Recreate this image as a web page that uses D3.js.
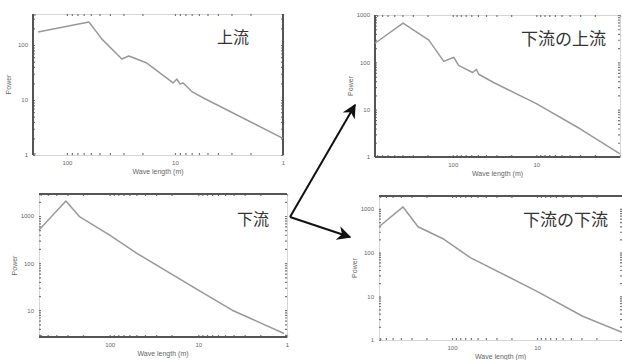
<!DOCTYPE html>
<html>
<head>
<meta charset="utf-8">
<script src="https://cdn.jsdelivr.net/npm/d3@7"></script>
<style>
  body { margin: 0; background: #fff; }
  svg { display: block; font-family: "Liberation Sans", Arial, sans-serif; }
</style>
</head>
<body>
<svg id="chart" width="622" height="360"></svg>
<script>
// upstream (上流)
const upWave = [185, 62.5, 47.4, 31, 26.7, 18.2, 10.4, 9.6, 9.0, 8.4, 6.9, 5.5, 2.9, 1.0];
const upPower = [172, 262, 128, 55.6, 63, 47, 20.4, 24, 19.6, 20.4, 14, 11, 5.8, 2.0];
// downstream (下流)
const downWave = [627, 312, 217, 100, 49.8, 10, 4.15, 1.08];
const downPower = [502, 2085, 953, 394, 163, 26.7, 10, 3.2];
// upstream part of downstream (下流の上流)
const duWave = [850, 393, 193, 128, 97, 85, 58, 52, 49, 32.5, 10, 3.0, 1.0];
const duPower = [253, 676, 294, 105, 128, 86, 61, 71, 56, 37.5, 13.4, 3.95, 1.16];
// downstream part of downstream (下流の下流)
const ddWave = [723, 377, 251, 128, 61, 10, 2.9, 1.0];
const ddPower = [390, 1110, 390, 208, 77, 13, 3.5, 1.5];

const titles = ['上流', '下流', '下流の上流', '下流の下流'];
const xLabelsLeft = [100, 10, 1];
const xLabelsRight = [100, 10];
const yLabelTicks = [1000, 100, 10, 1];

const svg = d3.select('#chart');

const panels = [
  { wave: upWave, power: upPower, title: titles[0], x0: 33, x1: 283, y0: 14, y1: 155,
    xd: [206, 1], yd: [1, 366], xl: xLabelsLeft, solid: ['left', 'right'], tx: 217, ty: 43, fs: 16 },
  { wave: downWave, power: downPower, title: titles[1], x0: 39, x1: 287, y0: 194, y1: 337,
    xd: [627, 1], yd: [2.7, 2930], xl: xLabelsLeft, solid: ['top', 'bottom'], tx: 237, ty: 225, fs: 16 },
  { wave: duWave, power: duPower, title: titles[2], x0: 375, x1: 620, y0: 15, y1: 157,
    xd: [850, 1], yd: [1, 1000], xl: xLabelsRight, solid: ['left', 'bottom'], tx: 521, ty: 45, fs: 17 },
  { wave: ddWave, power: ddPower, title: titles[3], x0: 379, x1: 622, y0: 196, y1: 340,
    xd: [723, 1], yd: [1, 1975], xl: xLabelsRight, solid: ['top'], tx: 523, ty: 226, fs: 17 }
];

function minorTicks(domain) {
  const lo = Math.min(...domain), hi = Math.max(...domain);
  const out = [];
  for (let e = -1; e <= 4; e++) {
    for (let m = 1; m < 10; m++) {
      const v = m * Math.pow(10, e);
      if (v >= lo && v <= hi) out.push(v);
    }
  }
  return out;
}

panels.forEach((p) => {
  const x = d3.scaleLog().domain(p.xd).range([p.x0, p.x1]);
  const y = d3.scaleLog().domain(p.yd).range([p.y1, p.y0]);
  const g = svg.append('g');

  const xt = minorTicks(p.xd);
  const yt = minorTicks(p.yd);
  const fmtX = (d) => p.xl.includes(d) ? d : '';
  const fmtY = (d) => yLabelTicks.includes(d) ? d : '';

  // bottom axis with labels
  const bx = g.append('g').attr('transform', `translate(0,${p.y1})`)
    .call(d3.axisBottom(x).tickValues(xt).tickSize(-2).tickPadding(6).tickFormat(fmtX));
  // top ticks
  const tx = g.append('g').attr('transform', `translate(0,${p.y0})`)
    .call(d3.axisTop(x).tickValues(xt).tickSize(-2).tickFormat(''));
  // left axis with labels
  const ly = g.append('g').attr('transform', `translate(${p.x0},0)`)
    .call(d3.axisLeft(y).tickValues(yt).tickSize(-2).tickPadding(5).tickFormat(fmtY));
  // right ticks
  const ry = g.append('g').attr('transform', `translate(${p.x1},0)`)
    .call(d3.axisRight(y).tickValues(yt).tickSize(-2).tickFormat(''));

  [bx, tx, ly, ry].forEach((a) => {
    a.select('.domain').attr('stroke', '#bbb').attr('stroke-width', 0.6);
    a.selectAll('.tick line').attr('stroke', '#777').attr('stroke-width', 1.2);
    a.selectAll('text').attr('fill', '#666').style('font-size', '6px');
  });

  // heavy frame lines
  const sides = {
    left: [p.x0, p.y0, p.x0, p.y1],
    right: [p.x1, p.y0, p.x1, p.y1],
    top: [p.x0, p.y0, p.x1, p.y0],
    bottom: [p.x0, p.y1, p.x1, p.y1]
  };
  p.solid.forEach((s) => {
    const c = sides[s];
    g.append('line')
      .attr('x1', c[0]).attr('y1', c[1]).attr('x2', c[2]).attr('y2', c[3])
      .attr('stroke', '#555').attr('stroke-width', 2);
  });

  // spectrum line
  const pts = p.wave.map((w, i) => [w, p.power[i]]);
  g.append('path')
    .datum(pts)
    .attr('fill', 'none')
    .attr('stroke', '#999')
    .attr('stroke-width', 1.5)
    .attr('stroke-linejoin', 'round')
    .attr('d', d3.line().x((d) => x(d[0])).y((d) => y(d[1])));

  // axis titles
  g.append('text')
    .attr('x', (p.x0 + p.x1) / 2)
    .attr('y', p.y1 + 19)
    .attr('text-anchor', 'middle')
    .attr('fill', '#666')
    .style('font-size', '7px')
    .text('Wave length (m)');
  g.append('text')
    .attr('transform', `translate(${p.x0 - 22},${(p.y0 + p.y1) / 2}) rotate(-90)`)
    .attr('text-anchor', 'middle')
    .attr('fill', '#666')
    .style('font-size', '7px')
    .text('Power');

  // panel title
  g.append('text')
    .attr('x', p.tx)
    .attr('y', p.ty)
    .attr('fill', '#333')
    .style('font-family', '"Noto Sans CJK JP", sans-serif')
    .style('font-size', p.fs + 'px')
    .text(p.title);
});

// arrows from the downstream panel to its two sub-panels
const defs = svg.append('defs');
defs.append('marker')
  .attr('id', 'head')
  .attr('viewBox', '0 0 10 10')
  .attr('refX', 9).attr('refY', 5)
  .attr('markerWidth', 7).attr('markerHeight', 7)
  .attr('orient', 'auto')
  .append('path')
  .attr('d', 'M0,0 L10,5 L0,10 L3,5 Z')
  .attr('fill', '#111');

const origin = [290, 217];
[[355, 105], [350, 237]].forEach((t) => {
  svg.append('line')
    .attr('x1', origin[0]).attr('y1', origin[1])
    .attr('x2', t[0]).attr('y2', t[1])
    .attr('stroke', '#111')
    .attr('stroke-width', 2)
    .attr('marker-end', 'url(#head)');
});
</script>
</body>
</html>
